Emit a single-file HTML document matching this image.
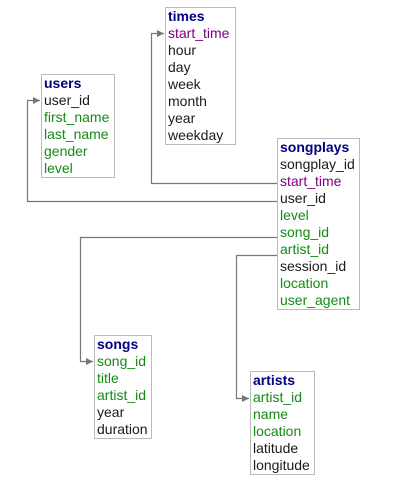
<!DOCTYPE html>
<html><head><style>html,body{margin:0;padding:0;background:#fff}</style></head><body>
<svg width="407" height="494" xmlns="http://www.w3.org/2000/svg" style="display:block;font-family:'Liberation Sans',sans-serif;font-size:14px">
<defs><marker id="a" markerWidth="8" markerHeight="8" refX="7" refY="4" orient="auto" markerUnits="userSpaceOnUse"><path d="M0,0.5 L7,4 L0,7.5z" fill="#777"/></marker></defs>
<g fill="none" stroke="#777" stroke-width="1.2">
<path d="M277,183.5 H151.5 V33.5 H164" marker-end="url(#a)"/>
<path d="M277,201.5 H27.5 V100.5 H40" marker-end="url(#a)"/>
<path d="M277,237.5 H80.5 V361.5 H93" marker-end="url(#a)"/>
<path d="M277,255.5 H236.5 V398.5 H249" marker-end="url(#a)"/>
</g>
<g fill="#fff" stroke="#bbb" stroke-width="1">
<rect x="41.5" y="74.5" width="73" height="103"/>
<rect x="165.5" y="7.5" width="70" height="137"/>
<rect x="277.5" y="138.5" width="82" height="171"/>
<rect x="94.5" y="335.5" width="57" height="103"/>
<rect x="250.5" y="371.5" width="64" height="103"/>
</g>
<g fill="#000080" font-weight="bold">
<text x="44" y="88">users</text><text x="168" y="21">times</text><text x="280" y="152">songplays</text><text x="97" y="349">songs</text><text x="253" y="385">artists</text>
</g>
<g fill="#1a1a1a">
<text x="44" y="105">user_id</text>
<text x="168" y="55">hour</text><text x="168" y="72">day</text><text x="168" y="89">week</text><text x="168" y="106">month</text><text x="168" y="123">year</text><text x="168" y="140">weekday</text>
<text x="280" y="169">songplay_id</text><text x="280" y="203">user_id</text><text x="280" y="271">session_id</text>
<text x="97" y="417">year</text><text x="97" y="434">duration</text>
<text x="253" y="453">latitude</text><text x="253" y="470">longitude</text>
</g>
<g fill="#800080"><text x="168" y="38">start_time</text><text x="280" y="186">start_time</text></g>
<g fill="#148a14">
<text x="44" y="122">first_name</text><text x="44" y="139">last_name</text><text x="44" y="156">gender</text><text x="44" y="173">level</text>
<text x="280" y="220">level</text><text x="280" y="237">song_id</text><text x="280" y="254">artist_id</text><text x="280" y="288">location</text><text x="280" y="305">user_agent</text>
<text x="97" y="366">song_id</text><text x="97" y="383">title</text><text x="97" y="400">artist_id</text>
<text x="253" y="402">artist_id</text><text x="253" y="419">name</text><text x="253" y="436">location</text>
</g>
</svg>
</body></html>
